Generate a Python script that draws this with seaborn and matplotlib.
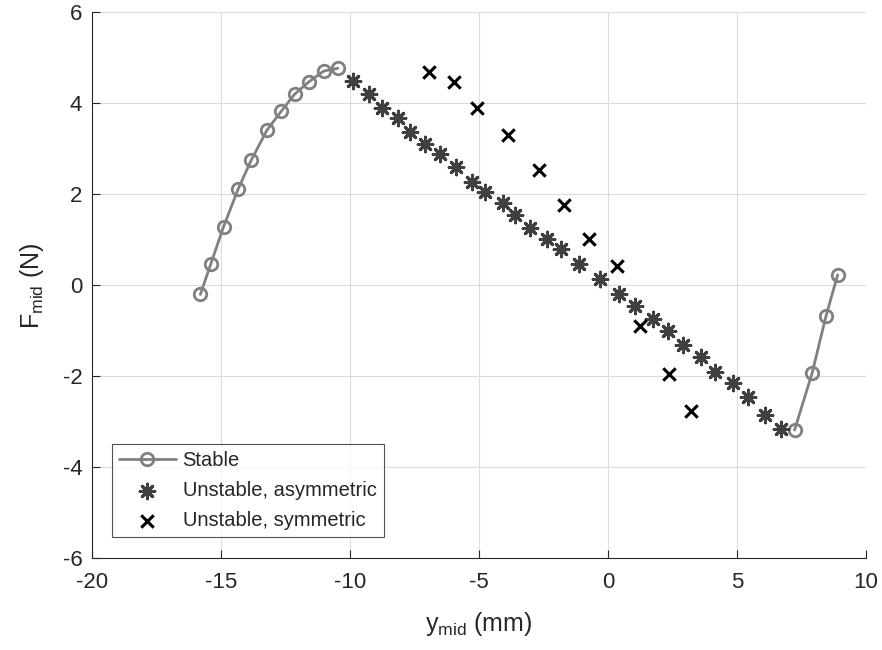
import matplotlib
matplotlib.use("Agg")
import matplotlib.pyplot as plt
import seaborn as sns
import pandas as pd

# Stable equilibrium branches (left and right)
stable_left_y = [-15.80, -15.39, -14.90, -14.34, -13.83, -13.22, -12.66, -12.15, -11.60, -11.02, -10.47]
stable_left_f = [-0.20, 0.48, 1.29, 2.11, 2.75, 3.41, 3.83, 4.20, 4.47, 4.71, 4.77]
stable_right_y = [7.23, 7.91, 8.45, 8.90]
stable_right_f = [-3.18, -1.93, -0.67, 0.23]

# Unstable, asymmetric branch
asym_y = [-9.88, -9.28, -8.76, -8.15, -7.66, -7.08, -6.50, -5.89, -5.29, -4.76,
          -4.07, -3.59, -3.01, -2.37, -1.81, -1.11, -0.33, 0.41, 1.06, 1.73,
          2.33, 2.89, 3.62, 4.16, 4.84, 5.43, 6.07, 6.69]
asym_f = [4.49, 4.20, 3.90, 3.67, 3.36, 3.10, 2.88, 2.61, 2.28, 2.06,
          1.82, 1.55, 1.27, 1.02, 0.80, 0.48, 0.13, -0.18, -0.45, -0.73,
          -1.00, -1.30, -1.57, -1.91, -2.15, -2.46, -2.86, -3.15]

# Unstable, symmetric branch
sym_y = [-6.95, -5.98, -5.08, -3.88, -2.69, -1.70, -0.75, 0.35, 1.25, 2.38, 3.23]
sym_f = [4.68, 4.47, 3.89, 3.30, 2.53, 1.76, 1.02, 0.43, -0.89, -1.95, -2.76]

x_ticks = [-20, -15, -10, -5, 0, 5, 10]
y_ticks = [-6, -4, -2, 0, 2, 4, 6]

sns.set_theme(style="whitegrid")
plt.rcParams['font.family'] = ['Liberation Sans', 'DejaVu Sans']
plt.rcParams['mathtext.fontset'] = 'custom'
plt.rcParams['mathtext.rm'] = 'Liberation Sans'
plt.rcParams['mathtext.it'] = 'Liberation Sans:italic'

fig = plt.figure(figsize=(8.82, 6.5), dpi=100)
ax = fig.add_axes([0.1043, 0.141, 0.8776, 0.840])

stable_color = '#808080'
left = pd.DataFrame({'y': stable_left_y, 'F': stable_left_f})
right = pd.DataFrame({'y': stable_right_y, 'F': stable_right_f})
sns.lineplot(data=left, x='y', y='F', ax=ax, color=stable_color, lw=2,
             marker='o', markersize=9, markerfacecolor='none',
             markeredgecolor=stable_color, markeredgewidth=2, label='Stable',
             sort=False, zorder=3)
sns.lineplot(data=right, x='y', y='F', ax=ax, color=stable_color, lw=2,
             marker='o', markersize=9, markerfacecolor='none',
             markeredgecolor=stable_color, markeredgewidth=2, sort=False,
             legend=False, zorder=3)

asym = pd.DataFrame({'y': asym_y, 'F': asym_f})
sns.scatterplot(data=asym, x='y', y='F', ax=ax, marker=(8, 2, 0), s=110,
                color='#404040', edgecolor='#404040', linewidth=2.2,
                label='Unstable, asymmetric', zorder=4)

sym = pd.DataFrame({'y': sym_y, 'F': sym_f})
sns.scatterplot(data=sym, x='y', y='F', ax=ax, marker='x', s=80,
                color='black', linewidth=2.2, label='Unstable, symmetric',
                zorder=4)

ax.set_xlim(-20, 10)
ax.set_ylim(-6, 6)
ax.set_xticks(x_ticks)
ax.set_yticks(y_ticks)
ax.set_xticklabels([str(t) for t in x_ticks])
ax.set_yticklabels([str(t) for t in y_ticks])
ax.tick_params(axis='both', labelsize=16, colors='#262626', direction='in',
               length=6, width=0.8, bottom=True, left=True)
ax.tick_params(axis='x', pad=10)
ax.tick_params(axis='y', pad=7)
ax.grid(True, color='#dcdcdc', lw=0.8)
for side in ['top', 'right']:
    ax.spines[side].set_visible(False)
for side in ['left', 'bottom']:
    ax.spines[side].set_color('#262626')
    ax.spines[side].set_linewidth(0.8)

ax.set_xlabel(r'y$_{\mathrm{mid}}$ (mm)', fontsize=18, color='#262626', labelpad=12)
ax.set_ylabel(r'F$_{\mathrm{mid}}$ (N)', fontsize=18, color='#262626', labelpad=12)

leg = ax.legend(loc='lower left', bbox_to_anchor=(0.026, 0.039), fontsize=14.5,
                frameon=True, fancybox=False, edgecolor='#262626',
                borderpad=0.35, labelspacing=0.55, handlelength=2.8,
                handletextpad=0.35, borderaxespad=0)
leg.get_frame().set_linewidth(0.8)

fig.savefig('out.png', dpi=100)
